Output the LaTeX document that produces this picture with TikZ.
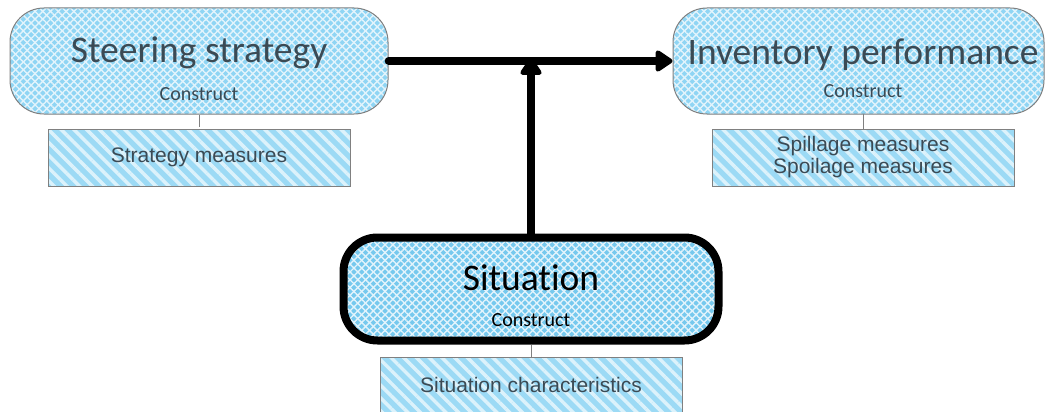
\documentclass[tikz,border=0pt]{standalone}
\usepackage{fontspec}
\setmainfont{Liberation Sans}
\newfontfamily\constructfont[Ligatures=NoCommon]{Carlito}
\usetikzlibrary{arrows.meta,patterns.meta}

\definecolor{cblue}{HTML}{8FD5F4}
\definecolor{sblue}{HTML}{76C9EE}
\definecolor{mblue}{HTML}{9CDAF5}
\definecolor{edgegray}{HTML}{808080}
\definecolor{titlegray}{HTML}{3B4A54}

\tikzset{
  hatch/.style={pattern={Lines[angle=#1,distance=5.5pt,line width=1.4pt]},
    pattern color=white!75!cblue},
  construct/.style={draw=edgegray, line width=1pt, rounded corners=34pt,
    minimum width=378pt, minimum height=106pt, inner sep=0pt,
    preaction={fill=#1}, preaction={hatch=45}, hatch=-45},
  construct/.default=cblue,
  measure/.style={draw=edgegray, line width=0.8pt,
    minimum width=302pt, minimum height=57pt, inner sep=0pt,
    preaction={fill=mblue},
    pattern={Lines[angle=-45,distance=9pt,line width=3.5pt]}, pattern color=white!65!mblue,
    font=\fontsize{21}{23}\selectfont, text=titlegray, align=center},
  bigtitle/.style={font=\constructfont\fontsize{37.5}{40}\selectfont, text=titlegray,
    anchor=base, inner sep=0pt},
  subtitle/.style={font=\constructfont\fontsize{20}{22}\selectfont, text=titlegray,
    anchor=base, inner sep=0pt},
  link/.style={draw=edgegray, line width=1pt},
  flow/.style={draw=black, line width=8pt, line cap=round,
    -{Triangle[length=19pt,width=24pt,round]}},
}

\begin{document}
\begin{tikzpicture}[x=1pt,y=-1pt]
\useasboundingbox (0,0) rectangle (1045,412);

% construct boxes
\node[construct] (steer) at (199,61) {};
\node[construct, minimum width=371pt] (inv) at (858.5,61) {};
\node[construct=sblue, draw=black, line width=8pt, minimum width=375pt, minimum height=103pt]
  (sit) at (531,289) {};

% construct titles
\node[bigtitle] (steerT) at (199,63) {Steering strategy};
\node[subtitle] (steerC) at (199,100) {Construct};
\node[bigtitle] (invT) at (863,65) {Inventory performance};
\node[subtitle] (invC) at (863,97) {Construct};
\node[bigtitle, text=black] (sitT) at (531,290) {Situation};
\node[subtitle, text=black] (sitC) at (531,326) {Construct};

% measure boxes
\node[measure] (steerM) at (199,157.5) {Strategy measures};
\node[measure] (invM) at (863,157.5) {Spillage measures\\[-1pt]Spoilage measures};
\node[measure] (sitM) at (531,385.5) {\raisebox{1pt}{Situation characteristics}};

% links between constructs and their measures
\draw[link] (steer.south -| steerM.north) -- (steerM.north);
\draw[link] (863,114) coordinate (invB) -- (invM.north);
\draw[link] (sit.south) -- (sitM.north);

% causal arrows
\coordinate (join) at (531,58);
\draw[flow] (steer.east) -- (inv.west);
\draw[flow] (sit.north) -- (join);
\end{tikzpicture}
\end{document}
